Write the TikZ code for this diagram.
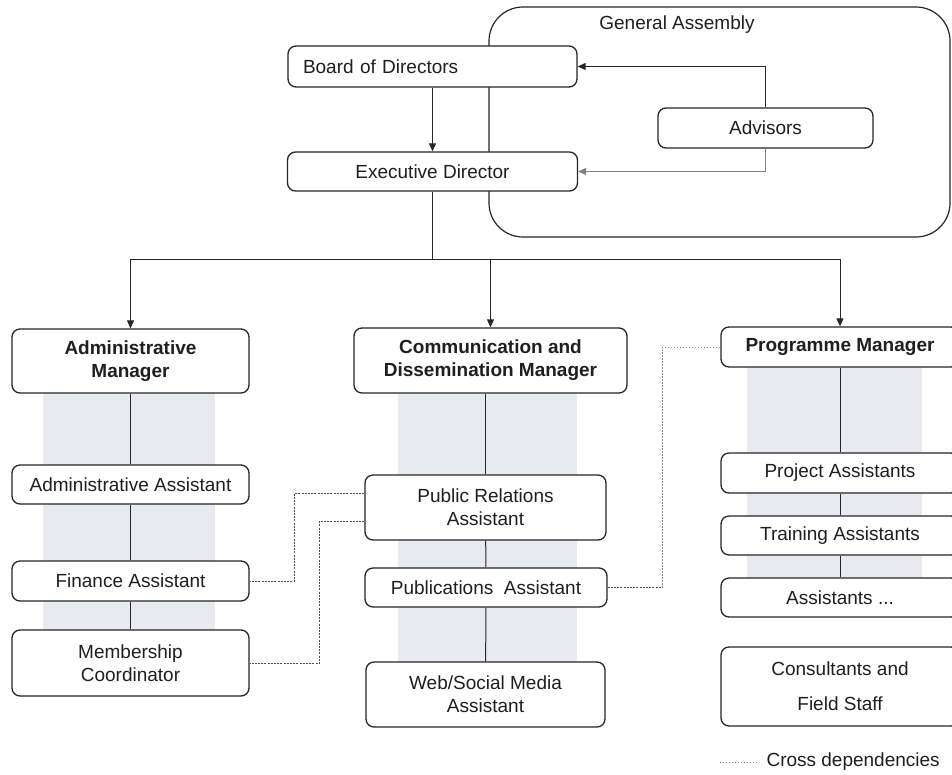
\documentclass[tikz,border=0pt]{standalone}
\usepackage{fontspec}
\setmainfont{Liberation Sans}
\usetikzlibrary{arrows.meta}
\begin{document}
\begin{tikzpicture}[x=1pt,y=-1pt,
  every node/.style={font=\fontsize{19}{23}\selectfont, text=black!88},
  box/.style={draw=black!85, line width=1.3pt, rounded corners=8pt, fill=white, inner sep=0pt, align=center},
  bold/.style={font=\fontsize{19}{23}\selectfont\bfseries},
  gabox/.style={draw=black!85, line width=1.2pt, rounded corners=34pt, inner sep=0pt},
  conn/.style={draw=black!85, line width=1pt},
  arr/.style={conn, -{Triangle[length=8pt,width=7pt]}},
  crossdash/.style={draw=black!70, line width=0.9pt, dash pattern=on 2pt off 1.2pt},
  crossdot/.style={draw=black!45, line width=0.9pt, dash pattern=on 1.2pt off 1.8pt},
  colshade/.style={fill={rgb,255:red,233;green,234;blue,240}, draw=none},
]
\clip (0,0) rectangle (952,774);
\fill[white] (0,0) rectangle (952,774);

% column shading
\fill[colshade] (43,393) rectangle (215,630);
\fill[colshade] (398,393) rectangle (577,662);
\fill[colshade] (747,367) rectangle (922,578);

% General Assembly
\node[gabox, minimum width=461, minimum height=230] (ga) at (719.5,122) {};
\node (galabel) at (677,25) {General Assembly};

% top boxes
\node[box, minimum width=289, minimum height=41, text width=259, align=left] (board) at (432.5,66.5) {Board of Directors};
\node[box, minimum width=290, minimum height=39] (exec) at (432.5,171.5) {Executive Director};
\node[box, minimum width=215, minimum height=40] (adv) at (765.5,128) {Advisors};

% managers
\node[box, bold, minimum width=237, minimum height=64] (adm) at (130.5,361) {Administrative\\Manager};
\node[box, bold, minimum width=273, minimum height=65] (comm) at (490.5,360.5) {Communication and\\Dissemination Manager};
\node[box, bold, minimum width=238, minimum height=40] (prog) at (840,347) {Programme Manager};

% admin column
\node[box, minimum width=237, minimum height=39] (aa) at (130.5,484.5) {Administrative Assistant};
\node[box, minimum width=237, minimum height=40] (fin) at (130.5,581) {Finance Assistant};
\node[box, minimum width=237, minimum height=66] (mem) at (130.5,663) {Membership\\Coordinator};

% communication column
\node[box, minimum width=241, minimum height=65] (pr) at (485.5,507.5) {Public Relations\\Assistant};
\node[box, minimum width=242, minimum height=39] (pub) at (486,587.5) {Publications\hspace{0.28em} Assistant};
\node[box, minimum width=239, minimum height=65] (web) at (485.5,694.5) {Web/Social Media\\Assistant};

% programme column
\node[box, minimum width=238, minimum height=40] (proj) at (840,473) {Project Assistants};
\node[box, minimum width=238, minimum height=39] (train) at (840,535.5) {Training Assistants};
\node[box, minimum width=238, minimum height=39] (assx) at (840,597.5) {Assistants ...};
\node[box, minimum width=238, minimum height=79] (cons) at (840,686.5) {Consultants and\\[12pt]Field Staff};

% top connectors
\draw[arr] (board) -- (exec);
\draw[arr] (adv.north) |- (board.east);
\draw[arr, draw=black!50] (adv.south) |- (exec.east);
\draw[conn] (exec.south) -- ++(0,68) coordinate (hub);
\draw[arr] (hub) -| (adm.north);
\draw[arr] (hub) -| (comm.north);
\draw[arr] (hub) -| (prog.north);

% column lines
\draw[conn] (adm) -- (aa);
\draw[conn] (aa) -- (fin);
\draw[conn] (fin) -- (mem);
\draw[conn] (comm.south -| pr.north) -- (pr.north);
\draw[conn] (pr) -- (pub);
\draw[conn] (pub) -- (web);
\draw[conn] (prog) -- (proj);
\draw[conn] (proj) -- (train);
\draw[conn] (train) -- (assx);

% cross dependencies
\draw[crossdash] ([yshift=14.5pt]pr.west) -| ([xshift=45pt]fin.east) -- (fin.east);
\draw[crossdash] ([yshift=-13.5pt]pr.west) -| ([xshift=70pt]mem.east) -- (mem.east);
\coordinate (pc) at (662,587.5);
\draw[crossdash] (pub.east) -- (pc);
\draw[crossdot] (pc) |- (prog.west);

% legend
\coordinate (l1) at (720,762);
\coordinate (l2) at (758,762);
\draw[crossdot] (l1) -- (l2);
\node[anchor=west, font=\fontsize{19}{23}\selectfont] (legend) at (763,762) {Cross dependencies};
\end{tikzpicture}
\end{document}
